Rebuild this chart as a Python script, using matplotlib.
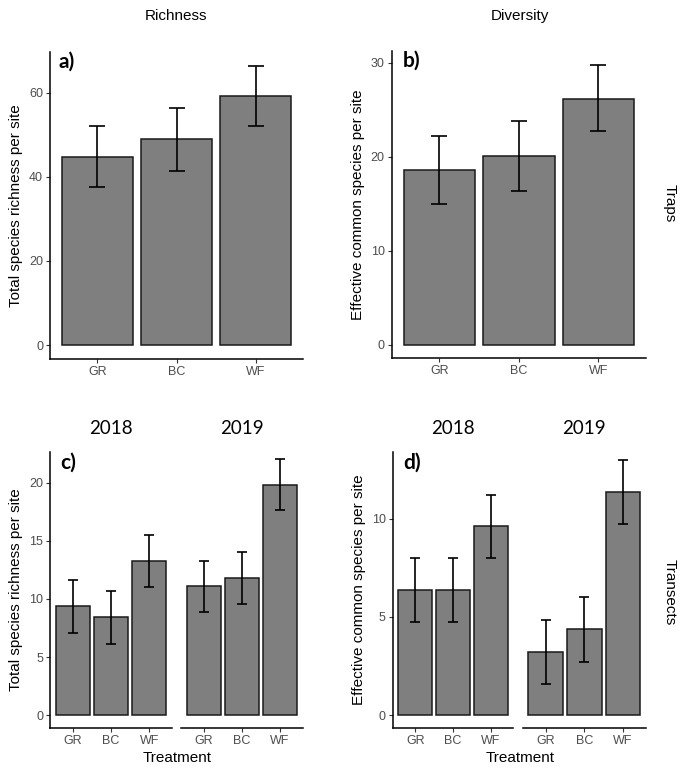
import matplotlib
matplotlib.use("Agg")
import matplotlib.pyplot as plt
import numpy as np

W, H = 685, 773
treatments = ["GR", "BC", "WF"]
years = ["2018", "2019"]

# Panel a: Traps richness
rich_traps = [44.8, 49.0, 59.2]
rich_traps_lo = [37.5, 41.5, 52.0]
rich_traps_hi = [52.0, 56.3, 66.4]
# Panel b: Traps diversity
div_traps = [18.6, 20.1, 26.2]
div_traps_lo = [15.0, 16.4, 22.7]
div_traps_hi = [22.2, 23.8, 29.8]
# Panel c: Transects richness by year
rich_tr = {"2018": [9.37, 8.43, 13.27], "2019": [11.09, 11.8, 19.8]}
rich_tr_lo = {"2018": [7.1, 6.13, 11.03], "2019": [8.86, 9.57, 17.6]}
rich_tr_hi = {"2018": [11.6, 10.7, 15.47], "2019": [13.3, 14.07, 22.0]}
# Panel d: Transects diversity by year
div_tr = {"2018": [6.36, 6.38, 9.61], "2019": [3.23, 4.37, 11.37]}
div_tr_lo = {"2018": [4.73, 4.73, 8.0], "2019": [1.61, 2.71, 9.74]}
div_tr_hi = {"2018": [7.98, 7.98, 11.2], "2019": [4.86, 6.01, 12.98]}

FONT = "Liberation Sans"
BOLDF = "Lato"
TICKC = "#4d4d4d"
TICKFS = 9
LABFS = 11

fig = plt.figure(figsize=(W / 100, H / 100), dpi=100)


def add_ax(x0, y0, x1, y1):
    return fig.add_axes([x0 / W, 1 - y1 / H, (x1 - x0) / W, (y1 - y0) / H])


def draw(ax, vals, lo, hi, ylim, yticks, left=True, capsize=5.5):
    x = np.arange(len(treatments))
    ax.bar(x, vals, width=0.9, color="#7f7f7f", edgecolor="#1a1a1a", linewidth=1.1, zorder=2)
    v = np.array(vals)
    ax.errorbar(x, v, yerr=[v - np.array(lo), np.array(hi) - v], fmt="none",
                ecolor="black", elinewidth=1.2, capsize=capsize, capthick=1.2, zorder=3)
    ax.set_xlim(-0.6, 2.6)
    ax.set_ylim(*ylim)
    ax.set_xticks(x)
    ax.set_xticklabels(treatments, fontsize=TICKFS, color=TICKC, family=FONT)
    for s in ["top", "right"]:
        ax.spines[s].set_visible(False)
    ax.spines["bottom"].set_linewidth(1.1)
    ax.spines["left"].set_linewidth(1.1)
    ax.tick_params(axis="both", length=3, width=0.8, color="#333333", pad=2)
    if left:
        ax.set_yticks(yticks)
        ax.set_yticklabels([str(t) for t in yticks], fontsize=TICKFS, color=TICKC, family=FONT)
    else:
        ax.spines["left"].set_visible(False)
        ax.set_yticks([])
    ax.set_facecolor("none")


def tag(ax, s, xpix):
    ax.text(xpix, 1.0, s, transform=ax.transAxes, family=BOLDF, fontweight="bold",
            fontsize=15, va="top", ha="left")


# Panel a
axa = add_ax(50, 52, 303, 359)
draw(axa, rich_traps, rich_traps_lo, rich_traps_hi, (-3.32, 69.7), [0, 20, 40, 60])
axa.set_ylabel("Total species richness per site", family=FONT, fontsize=LABFS, labelpad=4)
tag(axa, "a)", 9 / 253)

# Panel b
axb = add_ax(391.7, 50.7, 646, 358)
draw(axb, div_traps, div_traps_lo, div_traps_hi, (-1.41, 31.3), [0, 10, 20, 30])
axb.set_ylabel("Effective common species per site", family=FONT, fontsize=LABFS, labelpad=4)
tag(axb, "b)", 11 / 254)

fig.text(176 / W, 1 - 16 / H, "Richness", family=FONT, fontsize=11, ha="center", va="center")
fig.text(520 / W, 1 - 16 / H, "Diversity", family=FONT, fontsize=11, ha="center", va="center")
fig.text(670 / W, 1 - 203 / H, "Traps", family=FONT, fontsize=11, ha="center", va="center",
         rotation=270)
fig.text(670 / W, 1 - 592 / H, "Transects", family=FONT, fontsize=11, ha="center", va="center",
         rotation=270)

# Panel c
c_boxes = [(50, 172), (181, 303)]
for i, yr in enumerate(years):
    x0, x1 = c_boxes[i]
    ax = add_ax(x0, 452.3, x1, 727.7)
    draw(ax, rich_tr[yr], rich_tr_lo[yr], rich_tr_hi[yr], (-1.07, 22.6), [0, 5, 10, 15, 20],
         left=(i == 0), capsize=3.4)
    fig.text((x0 + x1) / 2 / W, 1 - 428 / H, yr, family=BOLDF, fontsize=13.5, ha="center",
             va="center")
    if i == 0:
        ax.set_ylabel("Total species richness per site", family=FONT, fontsize=LABFS, labelpad=4)
        tag(ax, "c)", 10 / 122)
fig.text(177 / W, 1 - 758 / H, "Treatment", family=FONT, fontsize=LABFS, ha="center", va="center")

# Panel d
d_boxes = [(392.7, 513.3), (522.7, 646)]
for i, yr in enumerate(years):
    x0, x1 = d_boxes[i]
    ax = add_ax(x0, 452.3, x1, 727.7)
    draw(ax, div_tr[yr], div_tr_lo[yr], div_tr_hi[yr], (-0.63, 13.37), [0, 5, 10],
         left=(i == 0), capsize=3.4)
    fig.text((x0 + x1) / 2 / W, 1 - 428 / H, yr, family=BOLDF, fontsize=13.5, ha="center",
             va="center")
    if i == 0:
        ax.set_ylabel("Effective common species per site", family=FONT, fontsize=LABFS, labelpad=4)
        tag(ax, "d)", 11 / 121)
fig.text(520 / W, 1 - 758 / H, "Treatment", family=FONT, fontsize=LABFS, ha="center", va="center")

fig.savefig("out.png", dpi=100)
